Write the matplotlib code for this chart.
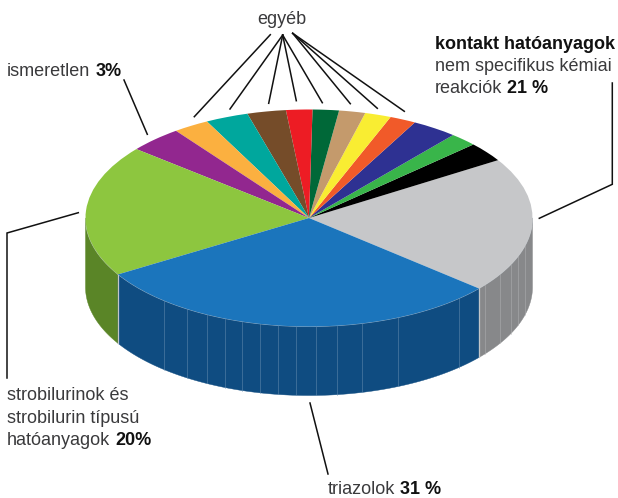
import numpy as np
import matplotlib
matplotlib.use('Agg')
import matplotlib.pyplot as plt

plt.rcParams['font.family'] = ['Liberation Sans', 'DejaVu Sans']

# slices counterclockwise from the grey / blue edge, percent
names = ['kontakt', 'black', 'green', 'navy', 'orange', 'yellow', 'tan', 'dkgreen',
         'red', 'brown', 'teal', 'lightorange', 'ismeretlen', 'strobilurin', 'triazol']
values = [20.2, 2.9, 2.0, 3.3, 1.9, 1.9, 1.9, 1.9, 1.9, 2.8, 3.1, 2.6, 3.9, 19.65, 30.05]
colors = ['#c6c7c9', '#000000', '#39b54a', '#2e3192', '#f15a29', '#f9ed32', '#c49a6c', '#006838',
          '#ed1c24', '#754c29', '#00a79d', '#fbb040', '#92278f', '#8dc63f', '#1b75bc']
side_colors = ['#87888a', '#000000', '#39b54a', '#2e3192', '#f15a29', '#f9ed32', '#c49a6c', '#006838',
               '#ed1c24', '#754c29', '#00a79d', '#fbb040', '#92278f', '#5a8527', '#0f4c81']
start_angle = -40.5

# pie geometry in pixels
cx, cy, rx, ry = 309, 218, 223.5, 108.5
depth = 69 / ry

# seams on the side of the pie, pixel x
blue_seams = [164.3, 186.7, 206.7, 225, 242.3, 260, 277.7, 296, 315.7, 337.3, 362.3, 398.3, 458.7]
grey_seams = [485, 500, 510.7, 518.3, 525]

W, H = 618, 498
fig = plt.figure(figsize=(W / 100, H / 100), dpi=100)
ax = fig.add_axes([0, 0, 1, 1])

wedges, _ = ax.pie(values, colors=colors, startangle=start_angle, counterclock=True,
                   radius=1, wedgeprops={'linewidth': 0.3, 'edgecolor': 'none', 'zorder': 3})
ax.set_aspect('auto')
ax.set_xlim(-cx / rx, (W - cx) / rx)
ax.set_ylim(-(H - cy) / ry, cy / ry)
ax.axis('off')

# front wall of the pie
for w, c in zip(wedges, side_colors):
    for lo, hi in [(-180, 0), (180, 360)]:
        t1, t2 = max(w.theta1, lo), min(w.theta2, hi)
        if t2 <= t1:
            continue
        t = np.radians(np.linspace(t1, t2, 120))
        xs = np.r_[np.cos(t), np.cos(t)[::-1]]
        ys = np.r_[np.sin(t), np.sin(t)[::-1] - depth]
        ax.fill(xs, ys, color=c, lw=0.3, zorder=1)
        # light rim along the top edge
        ax.plot(np.cos(t), np.sin(t), color='#d5dde4', lw=0.6, alpha=0.6, zorder=2)

for sx, col in [(s, '#6d93b5') for s in blue_seams] + [(s, '#b4b5b7') for s in grey_seams]:
    u = (sx - cx) / rx
    y0 = -np.sqrt(1 - u * u)
    ax.plot([u, u], [y0, y0 - depth], color=col, lw=0.6, alpha=0.55, zorder=2)

# light edges where the wall colour changes
for w in (wedges[0], wedges[-1]):
    a = np.radians(w.theta1)
    ax.plot([np.cos(a)] * 2, [np.sin(a), np.sin(a) - depth], color='#c2c6c9', lw=0.9, zorder=2)

# overlay in pixel coordinates for the leader lines and text
ov = fig.add_axes([0, 0, 1, 1], facecolor='none')
ov.set_xlim(0, W)
ov.set_ylim(H, 0)
ov.axis('off')

leaders = [
    [(270.3, 34.7), (194.3, 116.7)],
    [(282.7, 35), (230, 109)],
    [(282.7, 35), (268.7, 103.3)],
    [(282.7, 35), (296.3, 100.7)],
    [(282.7, 35), (322.3, 102.7)],
    [(292.7, 33.3), (350.3, 103.7)],
    [(292.7, 33.3), (377.3, 108.3)],
    [(292.7, 33.3), (404.3, 111.3)],
    [(124, 80), (147.3, 134.3)],
    [(612.3, 83), (612.3, 184.3), (539.3, 218.3)],
    [(78.3, 212.7), (7, 233), (7, 378)],
    [(310, 403), (328, 474)],
]
for pts in leaders:
    ov.plot([p[0] for p in pts], [p[1] for p in pts], color='#111111', lw=1.1, solid_joinstyle='miter')

FS = 13
TXT = '#3a3a3c'


def runs(x, y, parts):
    # parts: (text, bold) written one after the other on a baseline
    r = fig.canvas.get_renderer()
    for s, bold in parts:
        t = ov.text(x, y, s, fontsize=FS, va='baseline', ha='left',
                    color='#111111' if bold else TXT, fontweight='bold' if bold else 'normal')
        x += t.get_window_extent(r).width + 5


ov.text(282, 24, 'egyéb', fontsize=FS, color=TXT, ha='center', va='baseline')
runs(7, 76, [('ismeretlen', False), ('3%', True)])
runs(435, 49, [('kontakt hatóanyagok', True)])
runs(435, 71, [('nem specifikus kémiai', False)])
runs(435, 93, [('reakciók', False), ('21 %', True)])
runs(7, 400, [('strobilurinok és', False)])
runs(7, 422.5, [('strobilurin típusú', False)])
runs(7, 445, [('hatóanyagok', False), ('20%', True)])
runs(328, 494, [('triazolok', False), ('31 %', True)])

fig.savefig('out.png', dpi=100)
